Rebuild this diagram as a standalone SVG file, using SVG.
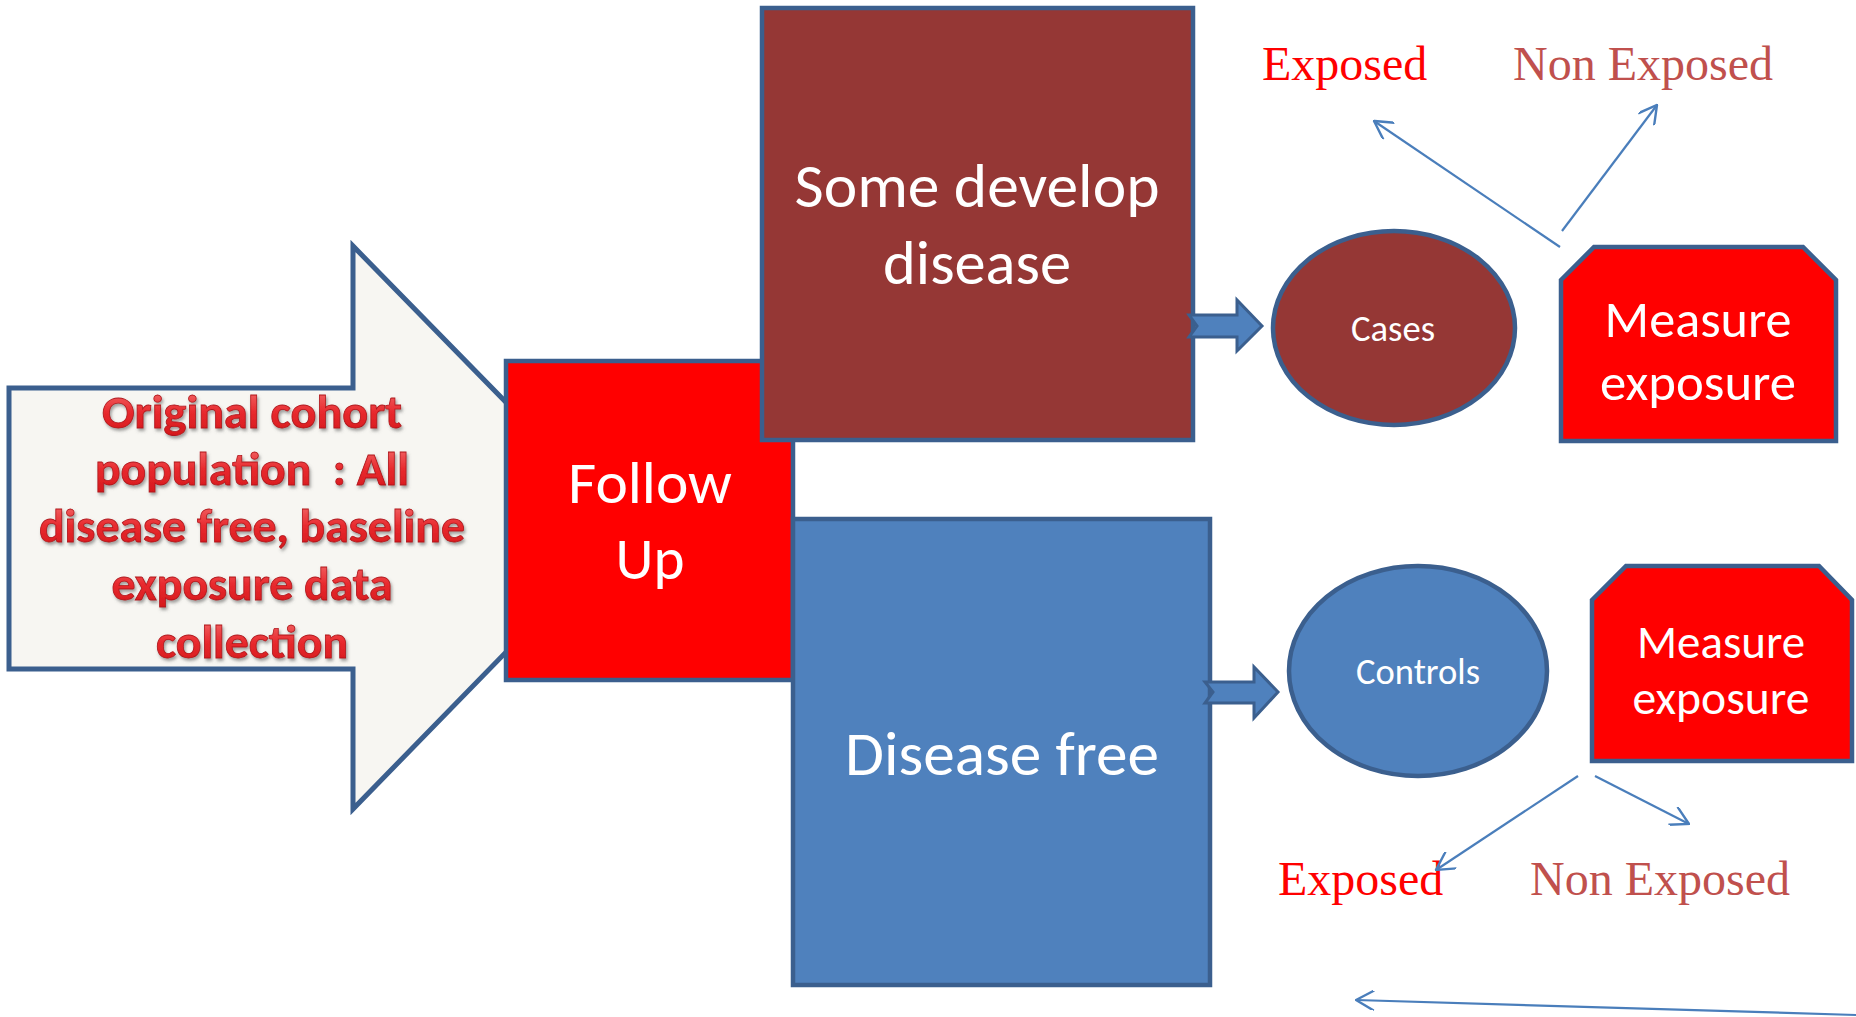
<svg xmlns="http://www.w3.org/2000/svg" width="1856" height="1017" viewBox="0 0 1856 1017">
<style>
.box{stroke:#3B5F8E;stroke-width:4.5;stroke-linejoin:miter}
.wt{fill:#FFFFFF;font-family:Carlito,Calibri,Lato,"Open Sans",sans-serif;text-anchor:middle}
.cohort{font-family:Carlito,Calibri,Lato,"Open Sans",sans-serif;font-weight:bold;font-size:47px;text-anchor:middle;fill:url(#redgloss);stroke:#B0161B;stroke-width:0.8;filter:url(#shadow)}
.ser{font-family:"Liberation Serif","Times New Roman",serif;font-size:48px}
.thin{stroke:#4A7EBB;stroke-width:2.2;fill:none;marker-end:url(#open)}
.block{fill:#4F81BD;stroke:#3B5F8E;stroke-width:3;stroke-linejoin:miter}
</style>
<defs>
<linearGradient id="redgloss" x1="0" y1="0" x2="0" y2="1">
<stop offset="0" stop-color="#F57A7A"/>
<stop offset="0.5" stop-color="#E82A2E"/>
<stop offset="1" stop-color="#D01418"/>
</linearGradient>
<filter id="shadow" x="-10%" y="-20%" width="120%" height="150%">
<feDropShadow dx="1.5" dy="2.5" stdDeviation="1.5" flood-color="#555555" flood-opacity="0.55"/>
</filter>
<marker id="open" viewBox="0 0 20 20" refX="19" refY="10" markerWidth="20" markerHeight="20" markerUnits="userSpaceOnUse" orient="auto">
<path d="M1,0 L19,10 L1,20" fill="none" stroke="#4A7EBB" stroke-width="2.4"/>
</marker>
</defs>

<g id="cohort-arrow">
<path d="M9,388 L353,388 L353,246 L628,527 L353,809 L353,669 L9,669 Z" fill="#F7F6F2" stroke="#3B5F8E" stroke-width="5" stroke-linejoin="miter"/>
<text class="cohort" x="252" y="428" textLength="300" lengthAdjust="spacingAndGlyphs">Original cohort</text>
<text class="cohort" x="252" y="485" textLength="314" lengthAdjust="spacingAndGlyphs">population&#160; : All</text>
<text class="cohort" x="252" y="542" textLength="426" lengthAdjust="spacingAndGlyphs">disease free, baseline</text>
<text class="cohort" x="252" y="600" textLength="281" lengthAdjust="spacingAndGlyphs">exposure data</text>
<text class="cohort" x="252" y="658" textLength="192" lengthAdjust="spacingAndGlyphs">collection</text>
</g>

<g id="follow-up">
<rect class="box" x="506" y="361" width="287" height="319" fill="#FF0000"/>
<text class="wt" x="650" y="503" font-size="60" textLength="164" lengthAdjust="spacingAndGlyphs">Follow</text>
<text class="wt" x="650" y="579" font-size="60" textLength="69" lengthAdjust="spacingAndGlyphs">Up</text>
</g>

<g id="some-develop-disease">
<rect class="box" x="762" y="8" width="431" height="432" fill="#953735"/>
<text class="wt" x="977" y="207" font-size="62" textLength="365" lengthAdjust="spacingAndGlyphs">Some develop</text>
<text class="wt" x="977" y="284" font-size="62" textLength="188" lengthAdjust="spacingAndGlyphs">disease</text>
</g>

<g id="disease-free">
<rect class="box" x="793" y="519" width="417" height="466" fill="#4F81BD"/>
<text class="wt" x="1002" y="775" font-size="62" textLength="314" lengthAdjust="spacingAndGlyphs">Disease free</text>
</g>

<g id="cases">
<ellipse cx="1394" cy="328" rx="121" ry="97" fill="#953735" stroke="#3B5F8E" stroke-width="4.5"/>
<text class="wt" x="1393" y="341" font-size="36" textLength="84" lengthAdjust="spacingAndGlyphs">Cases</text>
</g>

<g id="controls">
<ellipse cx="1418" cy="671" rx="129" ry="105" fill="#4F81BD" stroke="#3B5F8E" stroke-width="4.5"/>
<text class="wt" x="1418" y="684" font-size="36" textLength="124" lengthAdjust="spacingAndGlyphs">Controls</text>
</g>

<g id="measure-exposure-cases">
<path class="box" d="M1561,280 L1594,247 L1803,247 L1836,280 L1836,441 L1561,441 Z" fill="#FF0000"/>
<text class="wt" x="1698" y="337" font-size="52" textLength="187" lengthAdjust="spacingAndGlyphs">Measure</text>
<text class="wt" x="1698" y="400" font-size="52" textLength="196" lengthAdjust="spacingAndGlyphs">exposure</text>
</g>

<g id="measure-exposure-controls">
<path class="box" d="M1592,600 L1626,566 L1819,566 L1852,600 L1852,761 L1592,761 Z" fill="#FF0000"/>
<text class="wt" x="1721" y="658" font-size="47" textLength="168" lengthAdjust="spacingAndGlyphs">Measure</text>
<text class="wt" x="1721" y="714" font-size="47" textLength="177" lengthAdjust="spacingAndGlyphs">exposure</text>
</g>

<g id="labels">
<text class="ser" x="1262" y="80" fill="#FF0000">Exposed</text>
<text class="ser" x="1513" y="80" fill="#C0504D">Non Exposed</text>
<text class="ser" x="1278" y="895" fill="#FF0000">Exposed</text>
<text class="ser" x="1530" y="895" fill="#C0504D">Non Exposed</text>
</g>

<g id="connectors">
<path class="block" d="M1189,315 L1237,315 L1237,300 L1262,326 L1237,351 L1237,337 L1189,337 L1197,326 Z"/>
<path class="block" d="M1205,682 L1254,682 L1254,667 L1278,692 L1254,718 L1254,703 L1205,703 L1213,692 Z"/>
<line class="thin" x1="1560" y1="247" x2="1374" y2="121"/>
<line class="thin" x1="1562" y1="231" x2="1657" y2="105"/>
<line class="thin" x1="1578" y1="776" x2="1436" y2="870"/>
<line class="thin" x1="1595" y1="776" x2="1689" y2="824"/>
<line class="thin" x1="1856" y1="1015" x2="1356" y2="1000"/>
</g>
</svg>
